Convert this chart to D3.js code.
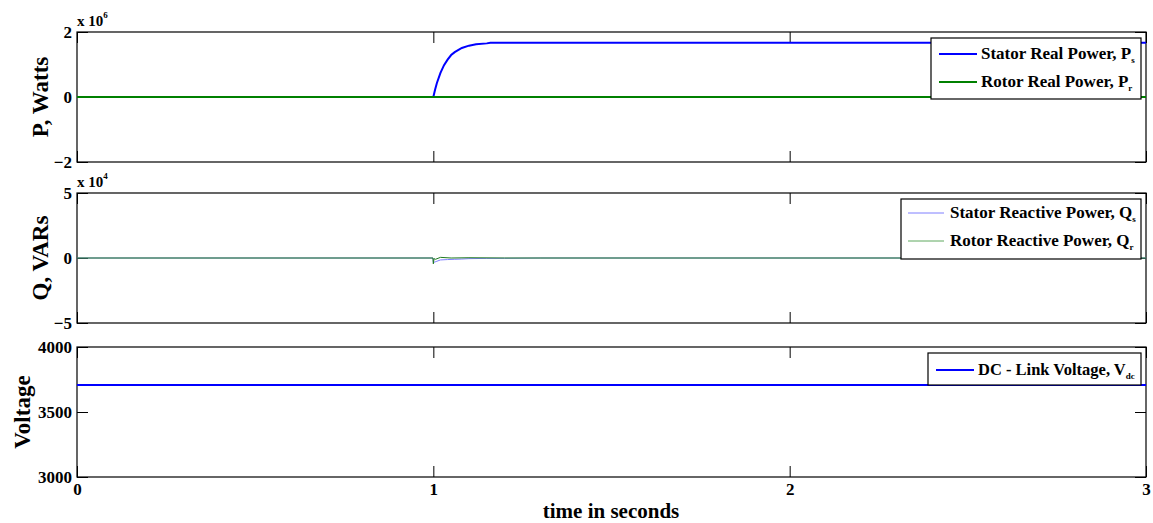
<!DOCTYPE html>
<html>
<head>
<meta charset="utf-8">
<script src="https://cdn.jsdelivr.net/npm/d3@7"></script>
<style>
  body { margin: 0; background: #fff; }
  svg { display: block; font-family: "Liberation Serif", "Times New Roman", serif; font-weight: bold; }
</style>
</head>
<body>
<svg id="chart" width="1153" height="523"></svg>
<script>
// ---------- data ----------
const timeTicks = [0, 1, 2, 3];
const pTicks = [-2, 0, 2];          // x 10^6
const qTicks = [-5, 0, 5];          // x 10^4
const vTicks = [3000, 3500, 4000];

// Stator real power (x 10^6 W)
const psTime   = [0, 1.0, 1.005, 1.01, 1.02, 1.03, 1.04, 1.05, 1.06, 1.08, 1.10, 1.12, 1.15, 1.16, 3.0];
const psValues = [0, 0,   0.23,  0.43, 0.74, 0.98, 1.15, 1.29, 1.38, 1.51, 1.58, 1.62, 1.65, 1.67, 1.67];
// Rotor real power (x 10^6 W)
const prTime   = [0, 3];
const prValues = [0, 0];
// Stator reactive power (x 10^4 VAR)
const qsTime   = [0, 0.999, 1.0, 1.005, 1.01, 1.02, 1.04, 1.06, 1.08, 1.10, 1.15, 1.20, 1.30, 3.0];
const qsValues = [0, 0,    -0.35, -0.30, -0.25, -0.15, -0.12, -0.10, -0.08, -0.05, -0.03, -0.02, 0, 0];
// Rotor reactive power (x 10^4 VAR)
const qrTime   = [0, 0.999, 1.0, 1.002, 1.006, 1.02, 1.05, 1.10, 1.20, 3.0];
const qrValues = [0, 0,    -0.45, -0.05, -0.10, 0.05, 0.0, 0.02, 0.0, 0];
// DC link voltage (V)
const vdcTime   = [0, 3];
const vdcValues = [3710, 3710];

// ---------- layout ----------
const svg = d3.select("#chart");
const left = 77, right = 1146;
const panels = [
  { top: 32,  bottom: 162, domain: [-2, 2],       ticks: pTicks, label: "P, Watts", labelX: 40, exp: "6" },
  { top: 193, bottom: 323, domain: [-5, 5],       ticks: qTicks, label: "Q, VARs",  labelX: 40, exp: "4" },
  { top: 347, bottom: 477, domain: [3000, 4000],  ticks: vTicks, label: "Voltage",  labelX: 22, exp: null }
];
const x = d3.scaleLinear().domain([0, 3]).range([left, right]);
const tickLen = 11;
const font = "Liberation Serif";

panels.forEach((p, i) => {
  const y = d3.scaleLinear().domain(p.domain).range([p.bottom, p.top]);
  p.y = y;
  const g = svg.append("g");
  g.append("rect").attr("x", left).attr("y", p.top)
    .attr("width", right - left).attr("height", p.bottom - p.top)
    .attr("fill", "none").attr("stroke", "#000").attr("stroke-width", 1.2);
  const yl = g.append("g").attr("transform", `translate(${left},0)`)
    .call(d3.axisLeft(y).tickValues(p.ticks).tickSize(-tickLen).tickPadding(16).tickFormat(d3.format("d")));
  yl.select(".domain").remove();
  yl.selectAll("text").attr("font-size", 17).attr("font-family", font).attr("font-weight", "bold").attr("fill", "#000").attr("dx", 11);
  const yr = g.append("g").attr("transform", `translate(${right},0)`)
    .call(d3.axisRight(y).tickValues(p.ticks).tickSize(-tickLen).tickFormat(""));
  yr.select(".domain").remove();
  const xb = g.append("g").attr("transform", `translate(0,${p.bottom})`)
    .call(d3.axisBottom(x).tickValues(timeTicks).tickSize(-tickLen).tickPadding(3).tickFormat(i === 2 ? d3.format("d") : ""));
  xb.select(".domain").remove();
  xb.selectAll("text").attr("font-size", 17).attr("font-family", font).attr("font-weight", "bold").attr("fill", "#000").attr("dy", "0.9em");
  const xt = g.append("g").attr("transform", `translate(0,${p.top})`)
    .call(d3.axisTop(x).tickValues(timeTicks).tickSize(-tickLen).tickFormat(""));
  xt.select(".domain").remove();
  g.selectAll(".tick line").attr("stroke", "#000");
  g.append("text").attr("transform", `translate(${p.labelX},${(p.top + p.bottom) / 2}) rotate(-90)`)
    .attr("text-anchor", "middle").attr("dominant-baseline", "central")
    .attr("font-size", 23).text(p.label);
  if (p.exp) {
    const t = g.append("text").attr("x", left).attr("y", p.top - 6).attr("font-size", 15);
    t.append("tspan").text("x 10");
    t.append("tspan").attr("dy", -8).attr("font-size", 9).text(p.exp);
  }
});

// ---------- lines ----------
function drawLine(panel, times, vals, color, width, crisp) {
  const line = d3.line().x((d, i) => x(times[i])).y(d => panel.y(d));
  const path = svg.append("path").datum(vals).attr("d", line)
    .attr("fill", "none").attr("stroke", color).attr("stroke-width", width);
  if (crisp) path.attr("shape-rendering", "crispEdges");
}
drawLine(panels[0], psTime, psValues, "#0000ff", 2);
drawLine(panels[0], prTime, prValues, "#008000", 2, true);
drawLine(panels[1], qsTime, qsValues, "#7f7fff", 1);
drawLine(panels[1], qrTime, qrValues, "#1f7a1f", 1);
drawLine(panels[2], vdcTime, vdcValues, "#0000ff", 2, true);

// ---------- legends ----------
const legends = [
  { x0: 931, y0: 38, x1: 1141, y1: 99, lineX0: 939, lineX1: 977, textX: 981, fs: 17,
    items: [ { y: 54, color: "#0000ff", w: 2, main: "Stator Real Power, P", sub: "s" },
             { y: 82, color: "#008000", w: 2, main: "Rotor Real Power, P", sub: "r" } ] },
  { x0: 901, y0: 199, x1: 1141, y1: 259, lineX0: 908, lineX1: 944, textX: 950, fs: 17,
    items: [ { y: 213, color: "#7f7fff", w: 1, main: "Stator Reactive Power, Q", sub: "s" },
             { y: 241, color: "#5fa85f", w: 1, main: "Rotor Reactive Power, Q", sub: "r" } ] },
  { x0: 928, y0: 353, x1: 1141, y1: 385, lineX0: 936, lineX1: 974, textX: 978, fs: 16.5,
    items: [ { y: 370, color: "#0000ff", w: 2, main: "DC - Link Voltage, V", sub: "dc" } ] }
];
legends.forEach(L => {
  const g = svg.append("g");
  g.append("rect").attr("x", L.x0).attr("y", L.y0).attr("width", L.x1 - L.x0).attr("height", L.y1 - L.y0)
    .attr("fill", "#fff").attr("stroke", "#000").attr("stroke-width", 1.2);
  L.items.forEach(it => {
    g.append("line").attr("x1", L.lineX0).attr("x2", L.lineX1).attr("y1", it.y).attr("y2", it.y)
      .attr("stroke", it.color).attr("stroke-width", it.w);
    const t = g.append("text").attr("x", L.textX).attr("y", it.y + 5).attr("font-size", L.fs);
    t.append("tspan").text(it.main);
    t.append("tspan").attr("dy", 4).attr("font-size", 9).text(it.sub);
  });
});

svg.append("text").attr("x", 611).attr("y", 518).attr("text-anchor", "middle")
  .attr("font-size", 21).text("time in seconds");
</script>
</body>
</html>
